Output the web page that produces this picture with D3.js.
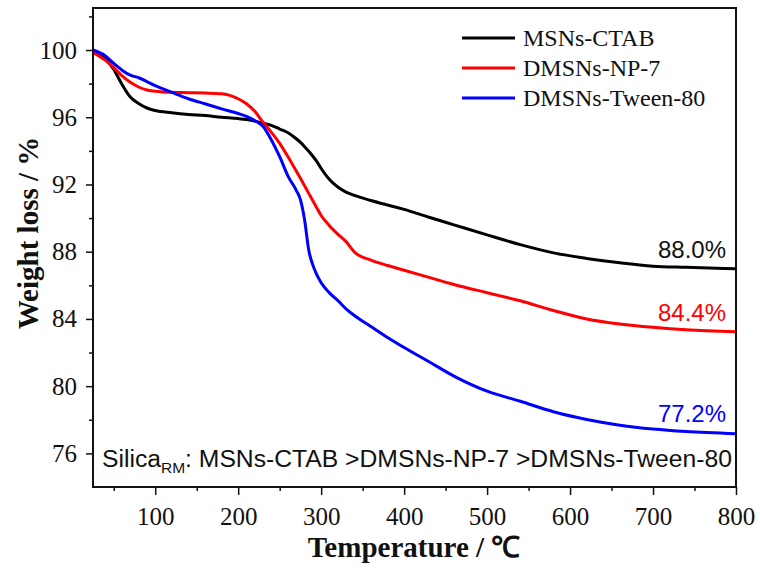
<!DOCTYPE html>
<html>
<head>
<meta charset="utf-8">
<script src="https://cdn.jsdelivr.net/npm/d3@7/dist/d3.min.js"></script>
<style>
  html, body { margin: 0; padding: 0; background: #fff; }
  svg { display: block; }
</style>
</head>
<body>
<svg id="chart" width="760" height="568"></svg>
<script>
// TGA curves: residual weight (%) against temperature (°C)
const temperature = [25, 40, 50, 60, 70, 80, 90, 100, 120, 140, 160, 180, 200, 210, 220, 230, 240, 250, 260, 270, 275, 280, 285, 290, 295, 300, 310, 320, 330, 340, 360, 380, 400, 430, 460, 500, 540, 580, 620, 660, 700, 740, 800];

const msnsCtab = [100.0, 99.5, 98.85, 97.95, 97.2, 96.82, 96.55, 96.4, 96.27, 96.17, 96.1, 96.0, 95.92, 95.86, 95.77, 95.64, 95.52, 95.3, 95.08, 94.72, 94.5, 94.25, 93.98, 93.68, 93.35, 92.95, 92.3, 91.85, 91.55, 91.35, 91.05, 90.78, 90.52, 90.05, 89.6, 89.0, 88.42, 87.93, 87.6, 87.34, 87.14, 87.07, 86.98];

const dmsnsNp7 = [99.86, 99.38, 98.95, 98.46, 98.08, 97.8, 97.62, 97.55, 97.48, 97.46, 97.44, 97.4, 97.1, 96.8, 96.35, 95.7, 95.1, 94.45, 93.65, 92.8, 92.37, 91.92, 91.47, 91.03, 90.59, 90.15, 89.55, 89.05, 88.6, 87.98, 87.5, 87.18, 86.9, 86.47, 86.05, 85.56, 85.08, 84.5, 84.0, 83.7, 83.5, 83.35, 83.23];

const dmsnsTween80 = [100.0, 99.65, 99.2, 98.8, 98.5, 98.35, 98.12, 97.88, 97.48, 97.1, 96.8, 96.5, 96.22, 96.05, 95.8, 95.45, 94.65, 93.65, 92.5, 91.65, 91.1, 89.9, 88.1, 87.2, 86.6, 86.15, 85.55, 85.1, 84.6, 84.2, 83.55, 82.9, 82.3, 81.45, 80.6, 79.7, 79.1, 78.48, 78.02, 77.68, 77.45, 77.3, 77.17];

const seriesNames = ["MSNs-CTAB", "DMSNs-NP-7", "DMSNs-Tween-80"];
const seriesColors = ["#000000", "#ff0000", "#0000ff"];
const residueLabels = ["88.0%", "84.4%", "77.2%"];
const residueLabelY = [258, 321, 422];

const xTicks = [100, 200, 300, 400, 500, 600, 700, 800];
const xMinorTicks = [50, 150, 250, 350, 450, 550, 650, 750];
const yTicks = [76, 80, 84, 88, 92, 96, 100];
const yMinorTicks = [78, 82, 86, 90, 94, 98, 102];

const svg = d3.select("#chart");
const plotLeft = 93, plotRight = 736, plotTop = 8, plotBottom = 487;

const x = d3.scaleLinear().domain([25, 800]).range([plotLeft, plotRight]);
const y = d3.scaleLinear().domain([74, 102.5]).range([plotBottom, plotTop]);

const serif = "'Liberation Serif', 'Times New Roman', serif";
const sans = "'Liberation Sans', Arial, sans-serif";

// minor ticks
svg.append("g")
  .attr("transform", `translate(0,${plotBottom})`)
  .call(d3.axisBottom(x).tickValues(xMinorTicks).tickSize(4).tickFormat(""))
  .call(g => g.select(".domain").remove());
svg.append("g")
  .attr("transform", `translate(${plotLeft},0)`)
  .call(d3.axisLeft(y).tickValues(yMinorTicks).tickSize(4).tickFormat(""))
  .call(g => g.select(".domain").remove());

// major ticks and labels
const xAxis = svg.append("g")
  .attr("transform", `translate(0,${plotBottom})`)
  .call(d3.axisBottom(x).tickValues(xTicks).tickSize(8).tickPadding(12).tickFormat(d3.format("d")));
const yAxis = svg.append("g")
  .attr("transform", `translate(${plotLeft},0)`)
  .call(d3.axisLeft(y).tickValues(yTicks).tickSize(7).tickPadding(9).tickFormat(d3.format("d")));

[xAxis, yAxis].forEach(g => {
  g.select(".domain").remove();
  g.attr("font-family", serif).attr("font-size", 25);
  g.selectAll("text").style("font-family", serif).style("font-size", "25px").attr("fill", "#111");
});
svg.selectAll(".tick line").attr("stroke", "#111").attr("stroke-width", 1.5);

// curves
const line = d3.line()
  .x((d, i) => x(temperature[i]))
  .y(d => y(d))
  .curve(d3.curveMonotoneX);

[msnsCtab, dmsnsNp7, dmsnsTween80].forEach((vals, k) => {
  svg.append("path")
    .datum(vals)
    .attr("d", line)
    .attr("fill", "none")
    .attr("stroke", seriesColors[k])
    .attr("stroke-width", 3)
    .attr("stroke-linejoin", "round");
});

// frame
svg.append("rect")
  .attr("x", plotLeft).attr("y", plotTop)
  .attr("width", plotRight - plotLeft).attr("height", plotBottom - plotTop)
  .attr("fill", "none").attr("stroke", "#111").attr("stroke-width", 2);

// legend
const legend = svg.append("g");
seriesNames.forEach((name, i) => {
  const ly = 38 + i * 30;
  legend.append("line")
    .attr("x1", 462).attr("x2", 515).attr("y1", ly).attr("y2", ly)
    .attr("stroke", seriesColors[i]).attr("stroke-width", 3);
  legend.append("text")
    .attr("x", 523).attr("y", ly).attr("dy", "0.33em")
    .style("font-family", serif).style("font-size", "24px")
    .attr("fill", "#111")
    .text(name);
});

// residue annotations
residueLabels.forEach((t, i) => {
  svg.append("text")
    .attr("x", 726).attr("y", residueLabelY[i])
    .attr("text-anchor", "end")
    .style("font-family", sans).style("font-size", "24px")
    .attr("fill", i === 0 ? "#111" : seriesColors[i])
    .text(t);
});

// ordering note
const note = svg.append("text")
  .attr("x", 102).attr("y", 467)
  .style("font-family", sans).style("font-size", "24.7px")
  .attr("fill", "#111");
note.append("tspan").text("Silica");
note.append("tspan").attr("dy", 6).style("font-size", "15.5px").text("RM");
note.append("tspan").attr("dy", -6).text(": MSNs-CTAB >DMSNs-NP-7 >DMSNs-Tween-80");

// axis titles
svg.append("text")
  .attr("x", 414).attr("y", 557)
  .attr("text-anchor", "middle")
  .style("font-family", serif).style("font-size", "29px").style("font-weight", "bold")
  .attr("fill", "#111")
  .text("Temperature / ℃");

svg.append("text")
  .attr("transform", "translate(38,233) rotate(-90)")
  .attr("text-anchor", "middle")
  .style("font-family", serif).style("font-size", "29px").style("font-weight", "bold")
  .attr("fill", "#111")
  .text("Weight loss / %");
</script>
</body>
</html>
